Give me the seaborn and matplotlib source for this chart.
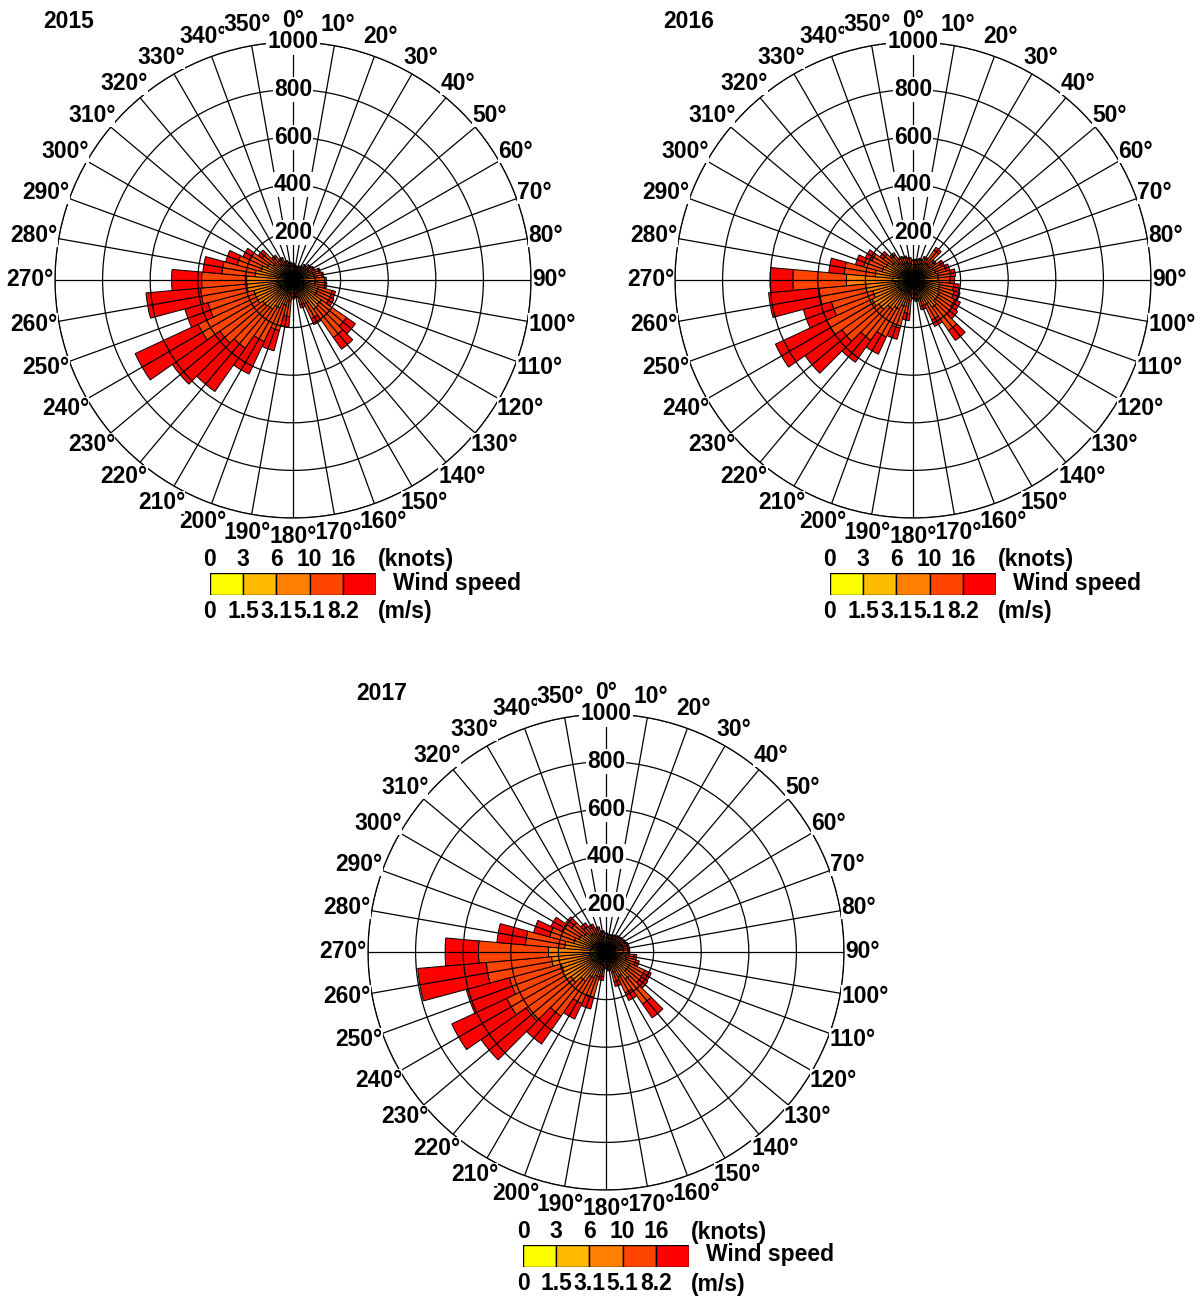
import numpy as np
import pandas as pd
import matplotlib
matplotlib.use("Agg")
import matplotlib.pyplot as plt
import seaborn as sns

# ---------------- data ----------------
directions = list(range(0, 360, 10))
speed_classes = ["0-1.5", "1.5-3.1", "3.1-5.1", "5.1-8.2", ">8.2"]
class_colors = ["#FFFF00", "#FFBB00", "#FF8000", "#FF4400", "#FF0000"]
knot_ticks = ["0", "3", "6", "10", "16"]
ms_ticks = ["0", "1.5", "3.1", "5.1", "8.2"]
radial_ticks = [200, 400, 600, 800, 1000]
years = ["2015", "2016", "2017"]

# 2015 counts per speed class (directions 0..350 step 10)
c1_2015 = [4, 4, 4, 4, 5, 5, 5, 5, 5, 5, 5, 5, 5, 5, 5, 5, 4, 4, 4, 4, 4, 5, 5, 5, 5, 5, 5, 5, 5, 5, 5, 5, 5, 5, 4, 4]
c2_2015 = [30, 28, 28, 30, 32, 34, 35, 38, 40, 40, 40, 45, 45, 50, 50, 45, 35, 28, 28, 35, 40, 45, 50, 50, 55, 55, 60, 60, 55, 50, 45, 40, 35, 32, 30, 30]
c3_2015 = [24, 20, 20, 22, 28, 32, 35, 42, 45, 48, 48, 60, 60, 90, 95, 60, 38, 25, 25, 50, 66, 80, 95, 100, 110, 110, 130, 130, 100, 85, 70, 55, 40, 35, 28, 26]
c4_2015 = [10, 8, 8, 9, 13, 18, 22, 30, 34, 40, 42, 60, 62, 130, 145, 70, 30, 13, 15, 66, 110, 156, 200, 220, 270, 200, 195, 189, 140, 103, 80, 58, 38, 27, 19, 13]
c5_2015 = [2, 0, 0, 0, 2, 3, 3, 5, 6, 7, 8, 15, 18, 45, 60, 27, 15, 5, 8, 45, 88, 150, 222, 244, 292, 100, 230, 126, 80, 50, 32, 20, 10, 6, 4, 2]

# 2016
c1_2016 = [5, 5, 5, 5, 5, 5, 5, 5, 5, 5, 5, 5, 5, 5, 5, 5, 4, 4, 4, 4, 5, 5, 5, 5, 5, 5, 5, 5, 5, 5, 5, 5, 5, 5, 5, 5]
c2_2016 = [32, 32, 33, 35, 35, 38, 40, 40, 42, 42, 45, 45, 48, 48, 50, 45, 38, 32, 30, 38, 45, 50, 55, 60, 65, 60, 70, 80, 55, 50, 50, 45, 40, 35, 35, 33]
c3_2016 = [28, 30, 32, 38, 48, 42, 50, 55, 60, 58, 62, 65, 70, 70, 85, 65, 40, 28, 25, 45, 65, 80, 90, 110, 120, 110, 125, 195, 100, 80, 70, 55, 45, 37, 35, 32]
c4_2016 = [16, 17, 20, 25, 65, 27, 38, 44, 52, 50, 60, 65, 70, 77, 120, 70, 33, 18, 15, 55, 95, 130, 160, 190, 210, 180, 196, 225, 130, 80, 66, 48, 38, 26, 24, 20]
c5_2016 = [4, 4, 5, 7, 15, 8, 12, 16, 21, 20, 23, 25, 27, 30, 50, 30, 15, 8, 6, 29, 48, 79, 112, 189, 238, 122, 213, 95, 65, 35, 30, 17, 12, 7, 6, 5]

# 2017
c1_2017 = [5, 5, 5, 5, 5, 5, 5, 5, 5, 5, 5, 5, 5, 5, 5, 5, 4, 4, 4, 4, 5, 5, 5, 5, 5, 5, 5, 5, 5, 5, 5, 5, 5, 5, 5, 5]
c2_2017 = [31, 30, 30, 31, 32, 33, 34, 35, 35, 35, 38, 40, 45, 45, 50, 45, 40, 30, 28, 35, 42, 45, 50, 55, 60, 60, 65, 60, 60, 55, 50, 48, 42, 40, 36, 33]
c3_2017 = [26, 24, 24, 26, 28, 29, 30, 32, 33, 33, 42, 45, 60, 62, 85, 65, 45, 25, 22, 35, 60, 70, 95, 120, 135, 130, 160, 177, 110, 80, 70, 60, 45, 40, 35, 29]
c4_2017 = [15, 13, 13, 15, 16, 17, 18, 20, 20, 20, 33, 40, 70, 70, 128, 75, 41, 15, 12, 30, 90, 120, 180, 230, 260, 225, 275, 294, 165, 105, 80, 62, 40, 33, 26, 18]
c5_2017 = [3, 3, 3, 3, 4, 4, 5, 6, 7, 7, 12, 15, 30, 33, 70, 35, 20, 6, 4, 16, 51, 71, 142, 231, 255, 188, 289, 140, 120, 70, 50, 34, 18, 12, 8, 5]

year_data = {
    "2015": [c1_2015, c2_2015, c3_2015, c4_2015, c5_2015],
    "2016": [c1_2016, c2_2016, c3_2016, c4_2016, c5_2016],
    "2017": [c1_2017, c2_2017, c3_2017, c4_2017, c5_2017],
}

rows = []
for yr in years:
    for ci, cls in enumerate(speed_classes):
        for d, v in zip(directions, year_data[yr][ci]):
            rows.append({"year": yr, "cls": cls, "dir": d, "count": v})
df = pd.DataFrame(rows)

# ---------------- style ----------------
sns.set_style("white")
plt.rcParams["font.family"] = ["Liberation Sans", "DejaVu Sans"]
plt.rcParams["text.color"] = "black"
palette = sns.color_palette(class_colors)
FS = 16.5

W, H = 1204, 1297
fig = plt.figure(figsize=(W / 100, H / 100), dpi=100)
fig.patch.set_facecolor("white")

centers = [(293, 280), (913, 280), (606, 952)]
R = 238


def ftext(x, y, s, **kw):
    return fig.text(x / W, 1 - y / H, s, color="black", **kw)


angle_labels = []
for yr, (cx, cy) in zip(years, centers):
    ax = fig.add_axes([(cx - R) / W, (H - cy - R) / H, 2 * R / W, 2 * R / H],
                      projection="polar")
    ax.set_theta_zero_location("N")
    ax.set_theta_direction(-1)
    sub = df[df["year"] == yr]
    bottom = np.zeros(len(directions))
    for ci, cls in enumerate(speed_classes):
        part = sub[sub["cls"] == cls].sort_values("dir")
        vals = part["count"].to_numpy(dtype=float)
        ax.bar(np.deg2rad(part["dir"].to_numpy()), vals, width=np.deg2rad(10),
               bottom=bottom, color=palette[ci], edgecolor="black",
               linewidth=0.7, zorder=1)
        bottom = bottom + vals
    ax.set_ylim(0, 1000)
    ax.set_xticks(np.deg2rad(directions))
    ax.set_xticklabels([])
    ax.set_yticks(radial_ticks)
    ax.set_yticklabels([])
    ax.grid(True, color="black", linewidth=0.9)
    ax.set_axisbelow(False)
    ax.spines["polar"].set_color("black")
    ax.spines["polar"].set_linewidth(0.9)
    ax.set_facecolor("white")

    for r in radial_ticks:
        ax.text(0, r, str(r), ha="center", va="center", fontsize=FS,
                fontweight="bold", zorder=20, clip_on=False, color="black",
                bbox=dict(boxstyle="square,pad=0.05", fc="white", ec="none"))

    for k, d in enumerate(directions):
        a = ax.annotate(f"{d}\u00b0", xy=(np.deg2rad(d), 1000), xycoords="data",
                        xytext=(0, 0), textcoords="offset pixels",
                        ha="center", va="center", fontsize=FS, fontweight="bold",
                        color="black",
                        zorder=7 + k * 0.01, annotation_clip=False,
                        bbox=dict(boxstyle="square,pad=0.0", fc="white", ec="none"))
        angle_labels.append((a, d))

    # year label
    ftext(cx - 250, cy - 258, yr, ha="left", va="center", fontsize=FS, fontweight="bold")

    # legend
    x0 = cx - 83
    sw = 166 / 5
    lax = fig.add_axes([x0 / W, (H - (cy + 315)) / H, 166 / W, 22 / H])
    lax.bar(np.arange(5), np.ones(5), width=1, align="edge", color=palette,
            edgecolor="black", linewidth=1.0)
    lax.set_xlim(0, 5)
    lax.set_ylim(0, 1)
    lax.axis("off")
    for i in range(5):
        ftext(x0 + sw * i, cy + 280, knot_ticks[i], ha="center", va="center",
              fontsize=FS, fontweight="bold")
        ftext(x0 + sw * i, cy + 332, ms_ticks[i], ha="center", va="center",
              fontsize=FS, fontweight="bold")
    ftext(x0 + 168, cy + 280, "(knots)", ha="left", va="center", fontsize=FS, fontweight="bold")
    ftext(x0 + 168, cy + 332, "(m/s)", ha="left", va="center", fontsize=FS, fontweight="bold")
    ftext(x0 + 183, cy + 303, "Wind speed", ha="left", va="center", fontsize=FS, fontweight="bold")

# position angle labels relative to ring
fig.canvas.draw()
renderer = fig.canvas.get_renderer()
for a, d in angle_labels:
    bb = a.get_window_extent(renderer)
    w, h = bb.width, bb.height
    s, c = np.sin(np.deg2rad(d)), np.cos(np.deg2rad(d))
    pad_y = 10 if c > 0.9 else 7
    a.xyann = ((w / 2 + 1) * s, (h / 2 + pad_y) * c)

fig.savefig("out.png", dpi=100, facecolor="white")
